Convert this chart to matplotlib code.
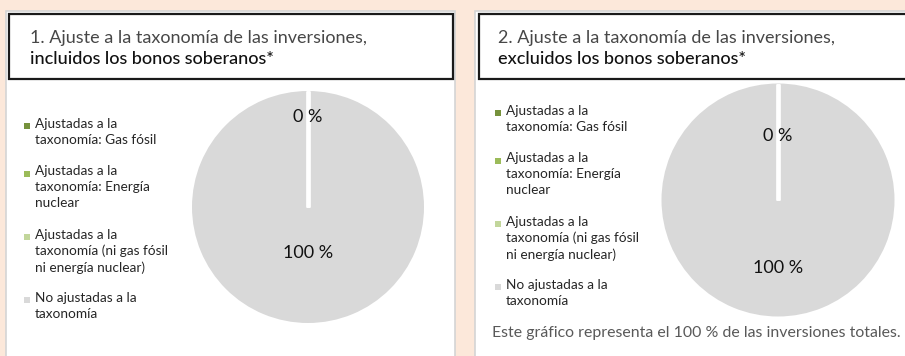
import numpy as np
import matplotlib.pyplot as plt
from matplotlib.patches import Rectangle

W, H = 905, 356

categories = [
    "Ajustadas a la\ntaxonomía: Gas fósil",
    "Ajustadas a la\ntaxonomía: Energía\nnuclear",
    "Ajustadas a la\ntaxonomía (ni gas fósil\nni energía nuclear)",
    "No ajustadas a la\ntaxonomía",
]
colors = ["#76923c", "#9bbb59", "#c2d69b", "#d9d9d9"]

incl_values = [0, 0, 0, 100]
excl_values = [0, 0, 0, 100]

titles_light = ["1. Ajuste a la taxonomía de las inversiones,",
                "2. Ajuste a la taxonomía de las inversiones,"]
titles_bold = ["incluidos los bonos soberanos*",
               "excluidos los bonos soberanos*"]
footnote = "Este gráfico representa el 100 % de las inversiones totales."

fig = plt.figure(figsize=(W / 100, H / 100), dpi=100)
fig.patch.set_facecolor("#fce8da")

# pixel-coordinate layer for panels, titles and legends
bg = fig.add_axes([0, 0, 1, 1])
bg.set_xlim(0, W)
bg.set_ylim(H, 0)
bg.axis("off")

panels = [
    dict(x0=6, x1=455, box_x0=9, box_x1=453, tx=30, lx=27, ly=126,
         cx=308, cy=207, r=116, lab0=0.78, lab1=0.40, values=incl_values),
    dict(x0=475, x1=910, box_x0=479, box_x1=910, tx=498, lx=498, ly=113,
         cx=778, cy=200, r=116.5, lab0=0.55, lab1=0.58, values=excl_values),
]

line_h = 15.8
item_gap = 16

for i, p in enumerate(panels):
    bg.add_patch(Rectangle((p["x0"], 11), p["x1"] - p["x0"], H, facecolor="white",
                           edgecolor="#d4d4d4", linewidth=1.2))
    bg.add_patch(Rectangle((p["box_x0"], 13.5), p["box_x1"] - p["box_x0"], 65,
                           facecolor="white", edgecolor="#1a1a1a", linewidth=1.6))
    bg.text(p["tx"], 38, titles_light[i], fontsize=13.0, family="Lato",
            color="#474747", va="center", ha="left")
    bg.text(p["tx"], 59, titles_bold[i], fontsize=13.0, family="Lato", weight="medium",
            color="#111111", va="center", ha="left")

    # legend
    y = p["ly"]
    for lab, col in zip(categories, colors):
        bg.scatter([p["lx"]], [y], marker="s", s=16, color=col, linewidths=0)
        bg.text(p["lx"] + 8, y - line_h / 2 - 0.5, lab, fontsize=9.8, family="Lato",
                color="#262626", va="top", ha="left", linespacing=1.4)
        n = lab.count("\n") + 1
        y += n * line_h + item_gap

    # pie
    ax = fig.add_axes([(p["cx"] - p["r"]) / W, 1 - (p["cy"] + p["r"]) / H,
                       2 * p["r"] / W, 2 * p["r"] / H])
    wedges, _ = ax.pie(p["values"], colors=colors, startangle=90, counterclock=False,
                       wedgeprops=dict(edgecolor="none"))
    ax.set_xlim(-1, 1)
    ax.set_ylim(-1, 1)
    ax.set_aspect("auto")

    # white separators on the slice boundaries
    for w in wedges:
        for th in (w.theta1, w.theta2):
            t = np.deg2rad(th)
            ax.plot([0, np.cos(t)], [0, np.sin(t)], color="white", lw=2.5,
                    solid_capstyle="butt")

    # value labels at the middle of each slice (zero slices share one spot)
    total = sum(p["values"])
    start = 90
    done = set()
    for v in p["values"]:
        ang = np.deg2rad(start - 360 * v / total / 2)
        start -= 360 * v / total
        if v in done:
            continue
        done.add(v)
        d = p["lab0"] if v == 0 else p["lab1"]
        ax.text(d * np.cos(ang), d * np.sin(ang), f"{v:.0f} %", fontsize=13,
                family="Lato", color="#111111", ha="center", va="center")

bg.text(492, 333, footnote, fontsize=11.4, family="Lato",
        color="#595959", va="center", ha="left")

fig.savefig("out.png", dpi=100, facecolor=fig.get_facecolor())
